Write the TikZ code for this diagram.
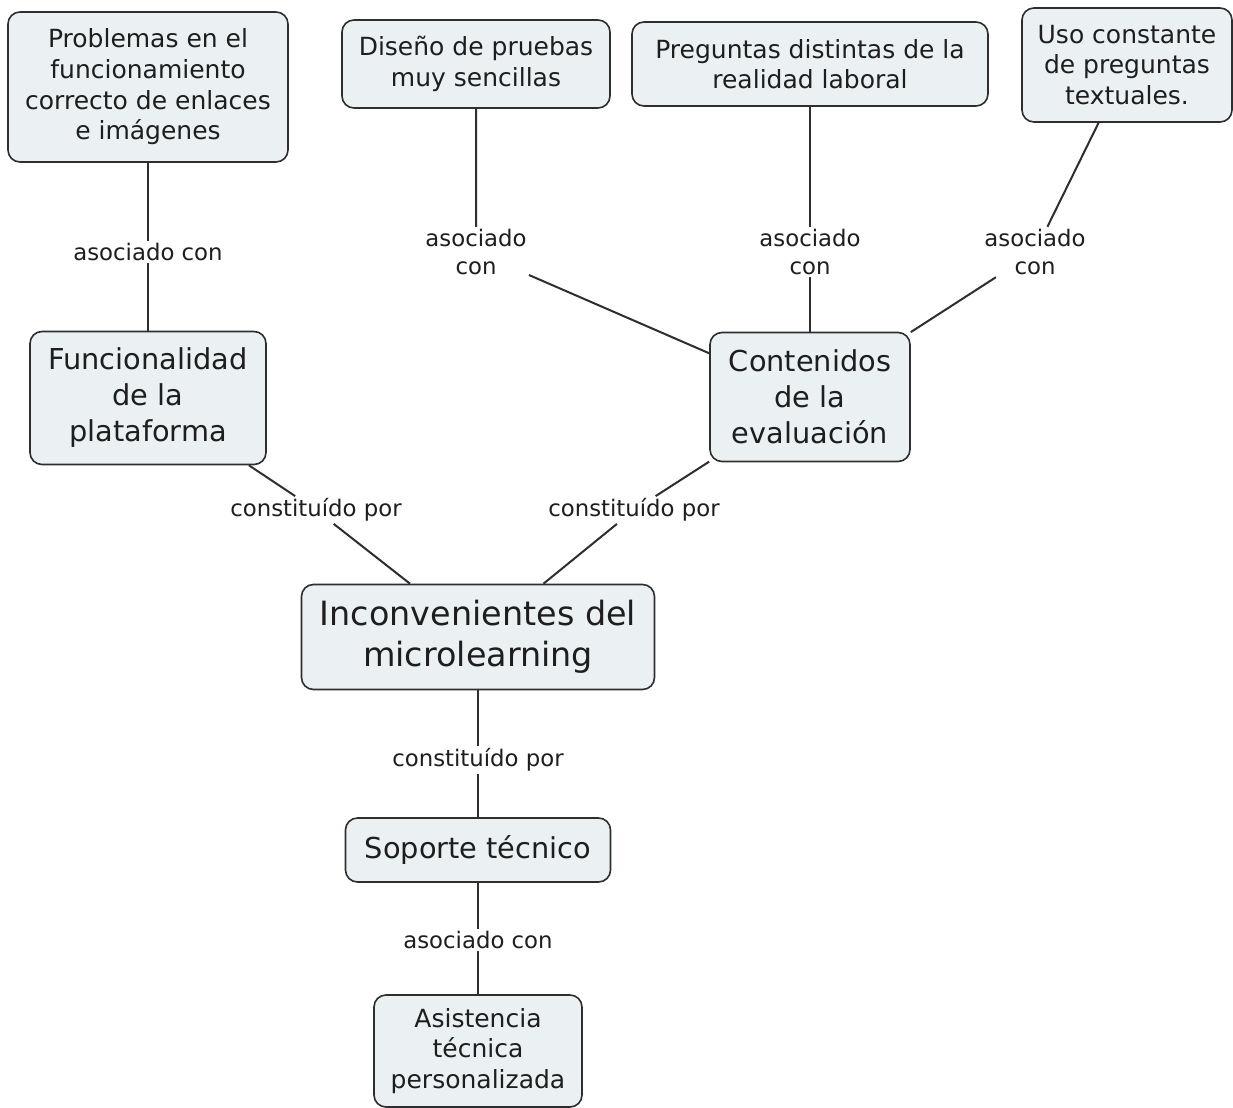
\documentclass[tikz,border=0pt]{standalone}
\usepackage{fontspec}
\setmainfont{DejaVu Sans}
\usepackage{tikz}
\usetikzlibrary{positioning}
\definecolor{conceptfill}{HTML}{EBF1F3}
\definecolor{conceptline}{HTML}{2E2E2E}
\definecolor{linktext}{HTML}{1E1E1E}

\begin{document}
\begin{tikzpicture}[x=0.5pt, y=-0.5pt,
    concept/.style={draw=conceptline, line width=0.8pt, fill=conceptfill, rounded corners=6pt,
                    align=center, inner sep=0pt, text=linktext},
    small/.style={concept, font=\fontsize{12.5}{15.3}\selectfont},
    medium/.style={concept, font=\fontsize{14.4}{18}\selectfont},
    large/.style={concept, font=\fontsize{16.7}{20.5}\selectfont},
    linkword/.style={align=center, inner sep=1pt, text=linktext, font=\fontsize{11.4}{14}\selectfont},
    link/.style={draw=conceptline, line width=1pt}]
    \useasboundingbox[fill=white] (0,0) rectangle (1233,1108);

    % Top row of concepts
    \node[small, minimum width=140pt, minimum height=75pt] (prob) at (148,87)
        {Problemas en el\\funcionamiento\\correcto de enlaces\\e imágenes};
    \node[small, minimum width=134pt, minimum height=44pt] (dis) at (476,64)
        {Diseño de pruebas\\muy sencillas};
    \node[small, minimum width=178pt, minimum height=42pt] (preg) at (810,64)
        {Preguntas distintas de la\\realidad laboral};
    \node[small, minimum width=105pt, minimum height=57pt] (uso) at (1127,65)
        {Uso constante\\de preguntas\\textuales.};

    % Middle concepts
    \node[medium, minimum width=118pt, minimum height=66.5pt] (func) at (148,398)
        {Funcionalidad\\de la\\plataforma};
    \node[medium, minimum width=100pt, minimum height=64.5pt] (cont) at (810,397)
        {Contenidos\\de la\\evaluación};
    \node[large, minimum width=176.5pt, minimum height=52.5pt] (inc) at (478,637)
        {Inconvenientes del\\microlearning};

    % Bottom concepts
    \node[medium, minimum width=132.5pt, minimum height=32pt] (sop) at (478,850)
        {Soporte técnico};
    \node[small, minimum width=104pt, minimum height=56pt] (asis) at (478,1051)
        {Asistencia\\técnica\\personalizada};

    % Linking words
    \node[linkword] (lprob) at (148,252) {asociado con};
    \node[linkword] (ldis) at (476,252) {asociado\\con};
    \node[linkword] (lpreg) at (810,252) {asociado\\con};
    \node[linkword] (luso) at (1035,252) {asociado\\con};
    \node[linkword] (lfunc) at (316,510) {constituído por};
    \node[linkword] (lcont) at (634,510) {constituído por};
    \node[linkword] (lsop) at (478,760) {constituído por};
    \node[linkword] (lasis) at (478,940) {asociado con};

    % Connectors
    \draw[link] (prob) -- (lprob) -- (func);
    \draw[link] (dis) -- (ldis) -- (cont);
    \draw[link] (preg) -- (lpreg) -- (cont);
    \draw[link] (uso) -- (luso) -- (cont);
    \draw[link] (func) -- (lfunc) -- (inc);
    \draw[link] (cont) -- (lcont) -- (inc);
    \draw[link] (inc) -- (lsop) -- (sop);
    \draw[link] (sop) -- (lasis) -- (asis);
\end{tikzpicture}
\end{document}
